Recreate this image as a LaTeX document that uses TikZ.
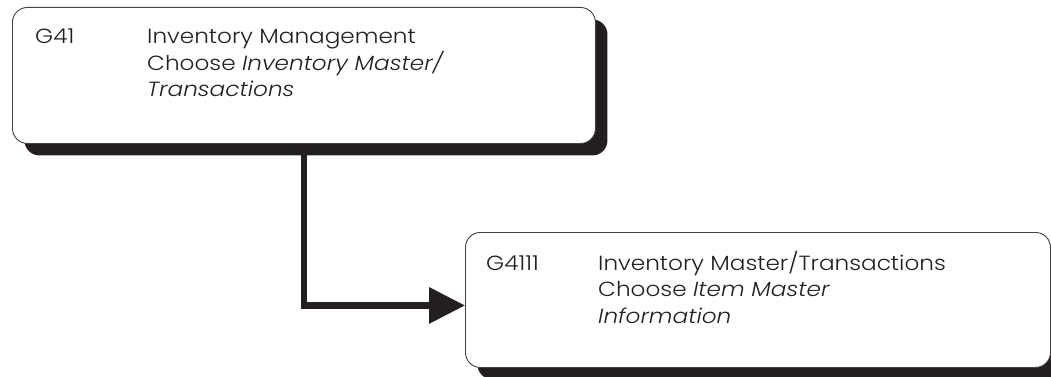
\documentclass[tikz,border=0pt]{standalone}
\usepackage{fontspec}
\setmainfont{Poppins}[UprightFont=* Light, ItalicFont=* Light Italic, FakeStretch=1.13]
\usetikzlibrary{arrows.meta,shadows}
\definecolor{ink}{HTML}{231F20}
\definecolor{txt}{HTML}{221F1F}
\tikzset{
  menubox/.style={draw=ink!85, line width=0.9pt, fill=white, rounded corners=15pt,
    inner sep=0pt, anchor=north west,
    drop shadow={shadow xshift=12pt, shadow yshift=-12pt, fill=ink, opacity=1}},
  label/.style={anchor=base west, inner sep=0pt, text=txt, font=\fontsize{20.5}{26}\selectfont},
  flow/.style={draw=ink, line width=6.5pt, line join=miter,
    -{Triangle[length=36pt,width=35pt]}}
}
\begin{document}
\begin{tikzpicture}[x=1pt,y=-1pt]
  \useasboundingbox (0,0) rectangle (1051,377);

  % menu boxes
  \node[menubox, minimum width=583pt, minimum height=136pt] (g41) at (12,7) {};
  \node[menubox, minimum width=585pt, minimum height=135pt] (g4111) at (465,232) {};

  % path from the first menu to the second
  \draw[flow] (g41.south) |- ([yshift=-5.5pt]g4111.west);

  % G41 menu text
  \node[label] (code1) at (35,44) {G41};
  \node[label] (t1a) at (147,44) {Inventory Management};
  \node[label] (t1b) at (147,70.5) {Choose \textit{Inventory Master/}};
  \node[label] (t1c) at (147,97) {\textit{Transactions}};

  % G4111 menu text
  \node[label] (code2) at (486,270) {G4111};
  \node[label] (t2a) at (598,270) {Inventory Master/Transactions};
  \node[label] (t2b) at (598,296.5) {Choose \textit{Item Master}};
  \node[label] (t2c) at (598,323) {\textit{Information}};
\end{tikzpicture}
\end{document}
